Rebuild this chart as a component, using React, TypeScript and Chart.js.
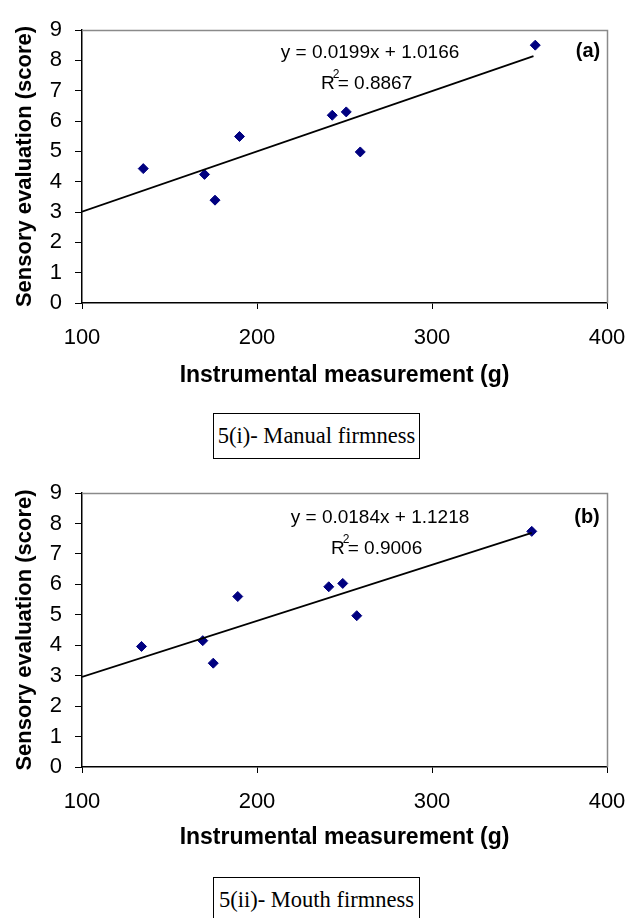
import React, { useEffect, useRef } from "react";
import { Chart, registerables } from "chart.js";

Chart.register(...registerables);

// ---- data ----
const xTickValues = [100, 200, 300, 400];
const yTickValues = [0, 1, 2, 3, 4, 5, 6, 7, 8, 9];

// (a) Manual firmness
const instrumentalA = [135, 170, 176, 190, 243, 251, 259, 359];
const manualScores = [4.43, 4.24, 3.39, 5.49, 6.19, 6.3, 4.98, 8.5];
const trendXA = [100, 358];
const trendYA = [3.01, 8.14];
const equationA = "y = 0.0199x + 1.0166";
const r2A = "= 0.8867";
const panelA = "(a)";
const captionA = "5(i)- Manual firmness";

// (b) Mouth firmness
const instrumentalB = [134, 169, 175, 189, 241, 249, 257, 357];
const mouthScores = [3.96, 4.15, 3.41, 5.6, 5.92, 6.03, 4.97, 7.74];
const trendXB = [100, 357];
const trendYB = [2.96, 7.69];
const equationB = "y = 0.0184x + 1.1218";
const r2B = "= 0.9006";
const panelB = "(b)";
const captionB = "5(ii)- Mouth firmness";

const xTitle = "Instrumental measurement (g)";
const yTitle = "Sensory evaluation (score)";

const SANS = "'Liberation Sans', Arial, sans-serif";
const SERIF = "'Liberation Serif', 'Times New Roman', serif";

type PanelProps = {
  xs: number[];
  ys: number[];
  tx: number[];
  ty: number[];
  equation: string;
  r2: string;
  panel: string;
  plotTop: number;
  plotBottom: number;
  eq: { dx: number; dy: number };
  rr: { dx: number; dy: number };
  pl: { dx: number; dy: number };
};

const W = 629;
const H = 400;
const PLOT_LEFT = 82;
const PLOT_RIGHT = 607;

function Panel(props: PanelProps) {
  const ref = useRef<HTMLCanvasElement | null>(null);
  useEffect(() => {
    if (!ref.current) return;
    const annot = {
      id: "annot",
      afterDatasetsDraw(chart: any) {
        const { ctx, chartArea } = chart;
        const { left, top, right, bottom } = chartArea;
        ctx.save();
        // gray frame top/right
        ctx.strokeStyle = "#8a8a8a";
        ctx.lineWidth = 1.5;
        ctx.beginPath();
        ctx.moveTo(left, top + 0.5);
        ctx.lineTo(right + 0.5, top + 0.5);
        ctx.lineTo(right + 0.5, bottom);
        ctx.stroke();
        ctx.fillStyle = "#000";
        ctx.textBaseline = "middle";
        ctx.font = `19px ${SANS}`;
        ctx.textAlign = "center";
        ctx.fillText(props.equation, left + props.eq.dx, top + props.eq.dy);
        ctx.textAlign = "left";
        const rx = left + props.rr.dx;
        const ry = top + props.rr.dy;
        ctx.fillText("R", rx, ry);
        const rw = ctx.measureText("R").width;
        ctx.font = `12px ${SANS}`;
        ctx.fillText("2", rx + rw - 2, ry - 9);
        ctx.font = `19px ${SANS}`;
        ctx.fillText(props.r2, rx + rw + 3, ry);
        ctx.font = `bold 20px ${SANS}`;
        ctx.textAlign = "center";
        ctx.fillText(props.panel, left + props.pl.dx, top + props.pl.dy);
        ctx.restore();
      },
    };
    const chart = new Chart(ref.current, {
      type: "scatter",
      data: {
        datasets: [
          {
            type: "line",
            data: props.tx.map((x, i) => ({ x, y: props.ty[i] })),
            borderColor: "#000",
            borderWidth: 1.8,
            pointRadius: 0,
            fill: false,
          } as any,
          {
            data: props.xs.map((x, i) => ({ x, y: props.ys[i] })),
            pointStyle: "rectRot",
            pointRadius: 5,
            backgroundColor: "#000080",
            borderColor: "#000080",
            borderWidth: 1,
          },
        ],
      },
      options: {
        responsive: false,
        animation: false,
        events: [],
        layout: { padding: { top: props.plotTop, right: W - PLOT_RIGHT, left: 0, bottom: 0 } },
        plugins: { legend: { display: false }, tooltip: { enabled: false } },
        scales: {
          x: {
            type: "linear",
            min: 100,
            max: 400,
            afterBuildTicks: (s: any) => {
              s.ticks = xTickValues.map((v) => ({ value: v }));
            },
            afterFit: (s: any) => {
              s.height = H - props.plotBottom;
              s.paddingLeft = 0;
              s.paddingRight = 0;
            },
            grid: { drawOnChartArea: false, drawTicks: true, tickLength: 6, color: "#000", lineWidth: 1 },
            border: { display: true, color: "#000", width: 1.5 },
            ticks: { color: "#000", font: { family: SANS, size: 22 }, padding: 16, maxRotation: 0, autoSkip: false },
            title: { display: true, text: xTitle, color: "#000", font: { family: SANS, size: 23, weight: "bold" }, padding: { bottom: 11, top: 0 } },
          },
          y: {
            type: "linear",
            min: 0,
            max: 9,
            afterBuildTicks: (s: any) => {
              s.ticks = yTickValues.map((v) => ({ value: v }));
            },
            afterFit: (s: any) => {
              s.width = PLOT_LEFT;
              s.paddingTop = 0;
              s.paddingBottom = 0;
            },
            grid: { drawOnChartArea: false, drawTicks: true, tickLength: 7, color: "#000", lineWidth: 1 },
            border: { display: true, color: "#000", width: 1.5 },
            ticks: { color: "#000", font: { family: SANS, size: 22 }, padding: 13, autoSkip: false },
            title: { display: true, text: yTitle, color: "#000", font: { family: SANS, size: 22, weight: "bold" }, padding: { top: 12, bottom: 0 } },
          },
        },
      } as any,
      plugins: [annot],
    });
    return () => chart.destroy();
  }, []);
  return <canvas ref={ref} width={W} height={H} style={{ display: "block", width: W, height: H }} />;
}

function Caption({ text, top }: { text: string; top: number }) {
  return (
    <div
      style={{
        position: "absolute",
        left: 213,
        top,
        width: 207,
        height: 46,
        boxSizing: "border-box",
        border: "1.5px solid #000",
        fontFamily: SERIF,
        fontSize: 22.5,
        color: "#000",
        display: "flex",
        alignItems: "center",
        justifyContent: "center",
        background: "#fff",
        whiteSpace: "nowrap",
      }}
    >
      {text}
    </div>
  );
}

export default function App() {
  return (
    <div style={{ position: "absolute", left: 0, top: 0, width: W, height: 918, overflow: "hidden", background: "#fff" }}>
      <div style={{ position: "absolute", left: 0, top: 0 }}>
        <Panel
          xs={instrumentalA}
          ys={manualScores}
          tx={trendXA}
          ty={trendYA}
          equation={equationA}
          r2={r2A}
          panel={panelA}
          plotTop={30}
          plotBottom={303}
          eq={{ dx: 288, dy: 23 }}
          rr={{ dx: 239, dy: 54 }}
          pl={{ dx: 506, dy: 21 }}
        />
      </div>
      <Caption text={captionA} top={413} />
      <div style={{ position: "absolute", left: 0, top: 462 }}>
        <Panel
          xs={instrumentalB}
          ys={mouthScores}
          tx={trendXB}
          ty={trendYB}
          equation={equationB}
          r2={r2B}
          panel={panelB}
          plotTop={31}
          plotBottom={305}
          eq={{ dx: 298, dy: 25 }}
          rr={{ dx: 249, dy: 56 }}
          pl={{ dx: 505, dy: 24 }}
        />
      </div>
      <Caption text={captionB} top={877} />
    </div>
  );
}
